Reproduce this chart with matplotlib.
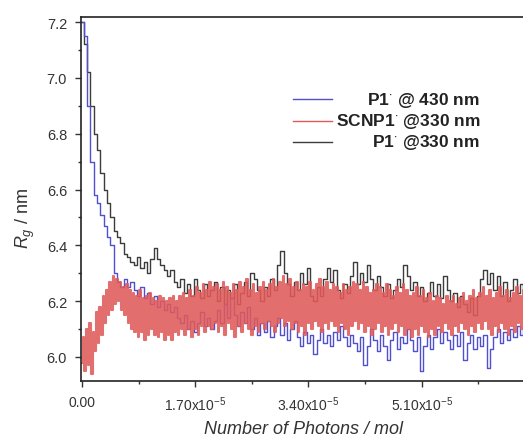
import numpy as np
import matplotlib.pyplot as plt
from matplotlib.lines import Line2D
from matplotlib.ticker import MultipleLocator, FuncFormatter

plt.rcParams['font.family'] = ['Liberation Sans', 'DejaVu Sans']
plt.rcParams['mathtext.fontset'] = 'custom'
plt.rcParams['mathtext.rm'] = 'Liberation Sans'
plt.rcParams['mathtext.it'] = 'Liberation Sans:italic'
plt.rcParams['mathtext.bf'] = 'Liberation Sans:bold'

# photon dose grid, units of 1e-5 mol
step = 0.05
n_pts = 134
photons = np.arange(n_pts) * step

# P1' @ 330 nm
rg_p1_330 = [
    7.20, 7.12, 7.02, 6.90, 6.80, 6.74, 6.66, 6.60, 6.55, 6.50,
    6.45, 6.43, 6.41, 6.37, 6.36, 6.34, 6.33, 6.36, 6.32, 6.34,
    6.30, 6.35, 6.39, 6.35, 6.33, 6.31, 6.29, 6.31, 6.27, 6.25,
    6.28, 6.23, 6.26, 6.22, 6.28, 6.24, 6.21, 6.26, 6.22, 6.24,
    6.27, 6.20, 6.25, 6.19, 6.24, 6.21, 6.26, 6.19, 6.23, 6.27,
    6.22, 6.30, 6.28, 6.24, 6.20, 6.25, 6.22, 6.28, 6.24, 6.33,
    6.38, 6.30, 6.26, 6.22, 6.27, 6.24, 6.30, 6.26, 6.32, 6.22,
    6.20, 6.25, 6.22, 6.28, 6.32, 6.27, 6.31, 6.24, 6.21, 6.26,
    6.23, 6.29, 6.34, 6.26, 6.30, 6.27, 6.33, 6.28, 6.24, 6.29,
    6.25, 6.22, 6.26, 6.21, 6.24, 6.28, 6.25, 6.33, 6.29, 6.24,
    6.27, 6.22, 6.25, 6.20, 6.23, 6.27, 6.22, 6.26, 6.21, 6.29,
    6.24, 6.20, 6.23, 6.18, 6.22, 6.19, 6.16, 6.21, 6.15, 6.22,
    6.28, 6.31, 6.26, 6.30, 6.24, 6.29, 6.22, 6.27, 6.20, 6.24,
    6.28, 6.23, 6.26, 6.24,
]

# P1' @ 430 nm
rg_p1_430 = [
    7.20, 7.15, 6.90, 6.70, 6.58, 6.55, 6.51, 6.47, 6.43, 6.40,
    6.30, 6.27, 6.25, 6.28, 6.25, 6.27, 6.24, 6.22, 6.25, 6.21,
    6.23, 6.19, 6.22, 6.18, 6.20, 6.17, 6.19, 6.16, 6.18, 6.14,
    6.12, 6.15, 6.10, 6.13, 6.09, 6.12, 6.16, 6.11, 6.14, 6.10,
    6.13, 6.17, 6.12, 6.19, 6.14, 6.21, 6.15, 6.11, 6.16, 6.12,
    6.18, 6.10, 6.14, 6.08, 6.12, 6.09, 6.13, 6.07, 6.11, 6.14,
    6.08, 6.12, 6.06, 6.10, 6.13, 6.07, 6.04, 6.09, 6.05, 6.08,
    6.01, 6.06, 6.10, 6.05, 6.08, 6.04, 6.09, 6.06, 6.11, 6.07,
    6.04, 6.08, 6.05, 6.02, 6.07, 5.97, 6.04, 6.10, 6.06, 6.02,
    6.08, 6.04, 5.99, 6.06, 6.09, 6.03, 6.07, 6.05, 6.10, 6.06,
    6.02, 6.07, 5.95, 6.04, 6.08, 6.03, 6.07, 6.10, 6.05, 6.09,
    6.06, 6.03, 6.08, 6.04, 6.09, 5.99, 6.05, 6.08, 6.03, 6.07,
    6.04, 6.08, 5.96, 6.03, 6.07, 6.10, 6.05, 6.09, 6.06, 6.10,
    6.07, 6.11, 6.08, 6.10,
]

# SCNP1' @ 330 nm, fast oscillation between a low and a high reading
rg_scnp_lo = [
    5.98, 5.95, 5.97, 5.94, 6.02, 6.05, 6.08, 6.12, 6.15, 6.17,
    6.19, 6.20, 6.17, 6.15, 6.12, 6.10, 6.09, 6.07, 6.09, 6.06,
    6.08, 6.10, 6.08, 6.07, 6.09, 6.06, 6.08, 6.06, 6.09, 6.08,
    6.10, 6.08, 6.10, 6.07, 6.10, 6.08, 6.11, 6.09, 6.11, 6.10,
    6.12, 6.09, 6.11, 6.08, 6.12, 6.10, 6.07, 6.11, 6.09, 6.12,
    6.10, 6.08, 6.11, 6.09, 6.12, 6.10, 6.13, 6.11, 6.09, 6.12,
    6.14, 6.11, 6.13, 6.10, 6.12, 6.09, 6.11, 6.08, 6.12, 6.10,
    6.13, 6.11, 6.09, 6.12, 6.10, 6.13, 6.11, 6.09, 6.12, 6.10,
    6.08, 6.11, 6.13, 6.10, 6.12, 6.09, 6.11, 6.08, 6.10, 6.12,
    6.09, 6.11, 6.08, 6.10, 6.12, 6.09, 6.11, 6.08, 6.10, 6.07,
    6.10, 6.08, 6.11, 6.09, 6.07, 6.10, 6.08, 6.11, 6.09, 6.12,
    6.10, 6.08, 6.11, 6.09, 6.12, 6.10, 6.08, 6.11, 6.09, 6.12,
    6.10, 6.13, 6.10, 6.08, 6.11, 6.09, 6.12, 6.10, 6.08, 6.11,
    6.09, 6.12, 6.10, 6.11,
]
rg_scnp_hi = [
    6.07, 6.10, 6.12, 6.09, 6.16, 6.18, 6.22, 6.24, 6.27, 6.29,
    6.28, 6.27, 6.25, 6.26, 6.24, 6.23, 6.22, 6.24, 6.21, 6.22,
    6.23, 6.21, 6.20, 6.22, 6.21, 6.20, 6.21, 6.22, 6.20, 6.22,
    6.23, 6.21, 6.24, 6.22, 6.25, 6.23, 6.26, 6.24, 6.27, 6.25,
    6.26, 6.24, 6.27, 6.25, 6.23, 6.26, 6.24, 6.27, 6.25, 6.28,
    6.24, 6.26, 6.23, 6.25, 6.27, 6.24, 6.26, 6.28, 6.25, 6.27,
    6.29, 6.26, 6.28, 6.25, 6.27, 6.24, 6.26, 6.25, 6.27, 6.24,
    6.26, 6.28, 6.25, 6.27, 6.24, 6.26, 6.25, 6.23, 6.26, 6.24,
    6.25, 6.27, 6.26, 6.24, 6.27, 6.25, 6.23, 6.24, 6.26, 6.25,
    6.23, 6.26, 6.24, 6.22, 6.25, 6.23, 6.26, 6.24, 6.22, 6.23,
    6.25, 6.22, 6.24, 6.21, 6.23, 6.20, 6.22, 6.21, 6.19, 6.22,
    6.20, 6.22, 6.19, 6.21, 6.23, 6.20, 6.22, 6.24, 6.21, 6.23,
    6.25, 6.22, 6.24, 6.21, 6.23, 6.25, 6.22, 6.24, 6.21, 6.23,
    6.25, 6.22, 6.24, 6.23,
]

labels = ["P1$^{\\bullet}$ @ 430 nm", "SCNP1$^{\\bullet}$ @330 nm", "P1$^{\\bullet}$ @330 nm"]
colors = ['#4f4fd0', '#e05a5a', '#3c3c3c']

x = photons * 1e-5
# interleave the low/high readings half a step apart
x_scnp = np.column_stack([x, x + step * 0.5e-5]).ravel()
y_scnp = np.column_stack([rg_scnp_lo, rg_scnp_hi]).ravel()

W, H = 523, 439
fig = plt.figure(figsize=(W / 100, H / 100), dpi=100)
ax = fig.add_axes([81 / W, 57 / H, 444 / W, 364 / H])

ax.plot(x, rg_p1_330, color=colors[2], lw=1.0, drawstyle='steps-mid')
ax.plot(x, rg_p1_430, color=colors[0], lw=1.0, drawstyle='steps-mid')
ax.plot(x_scnp, y_scnp, color=colors[1], lw=1.5, alpha=0.88, drawstyle='steps-mid')

ax.set_xlim(-0.015e-5, 6.65e-5)
ax.set_ylim(5.914, 7.218)

ax.xaxis.set_major_locator(MultipleLocator(1.7e-5))
ax.xaxis.set_minor_locator(MultipleLocator(0.85e-5))
ax.yaxis.set_major_locator(MultipleLocator(0.2))
ax.yaxis.set_minor_locator(MultipleLocator(0.1))

def xfmt(v, pos):
    if abs(v) < 1e-9:
        return "0.00"
    return "%.2fx10$^{-5}$" % (v / 1e-5)

ax.xaxis.set_major_formatter(FuncFormatter(xfmt))
ax.yaxis.set_major_formatter(FuncFormatter(lambda v, p: "%.1f" % v))

ax.tick_params(which='major', direction='out', length=4, width=1, labelsize=10, colors='#333333')
ax.tick_params(which='minor', direction='out', length=2.5, width=1, colors='#333333')
ax.tick_params(axis='x', pad=6)
ax.tick_params(axis='y', pad=6, labelsize=10.5)
for s in ax.spines.values():
    s.set_linewidth(1.2)
    s.set_color('#222222')

ax.set_xlabel("Number of Photons / mol", fontsize=13, style='italic', color='#333333', labelpad=5)
ax.set_ylabel("$R_g$ / nm", fontsize=13, color='#333333')
ax.yaxis.set_label_coords(-0.098, 0.45)

# legend: short line sample, label right-aligned
for i, (lab, c) in enumerate(zip(labels, colors)):
    yy = 1 - (100 + 21.5 * i) / H
    fig.add_artist(Line2D([293 / W, 332 / W], [yy, yy], color=c, lw=1.0,
                          transform=fig.transFigure))
    fig.text(480 / W, yy, lab, ha='right', va='center', fontsize=12.5,
             fontweight='bold', color='#222222')

fig.savefig("out.png", dpi=100)
